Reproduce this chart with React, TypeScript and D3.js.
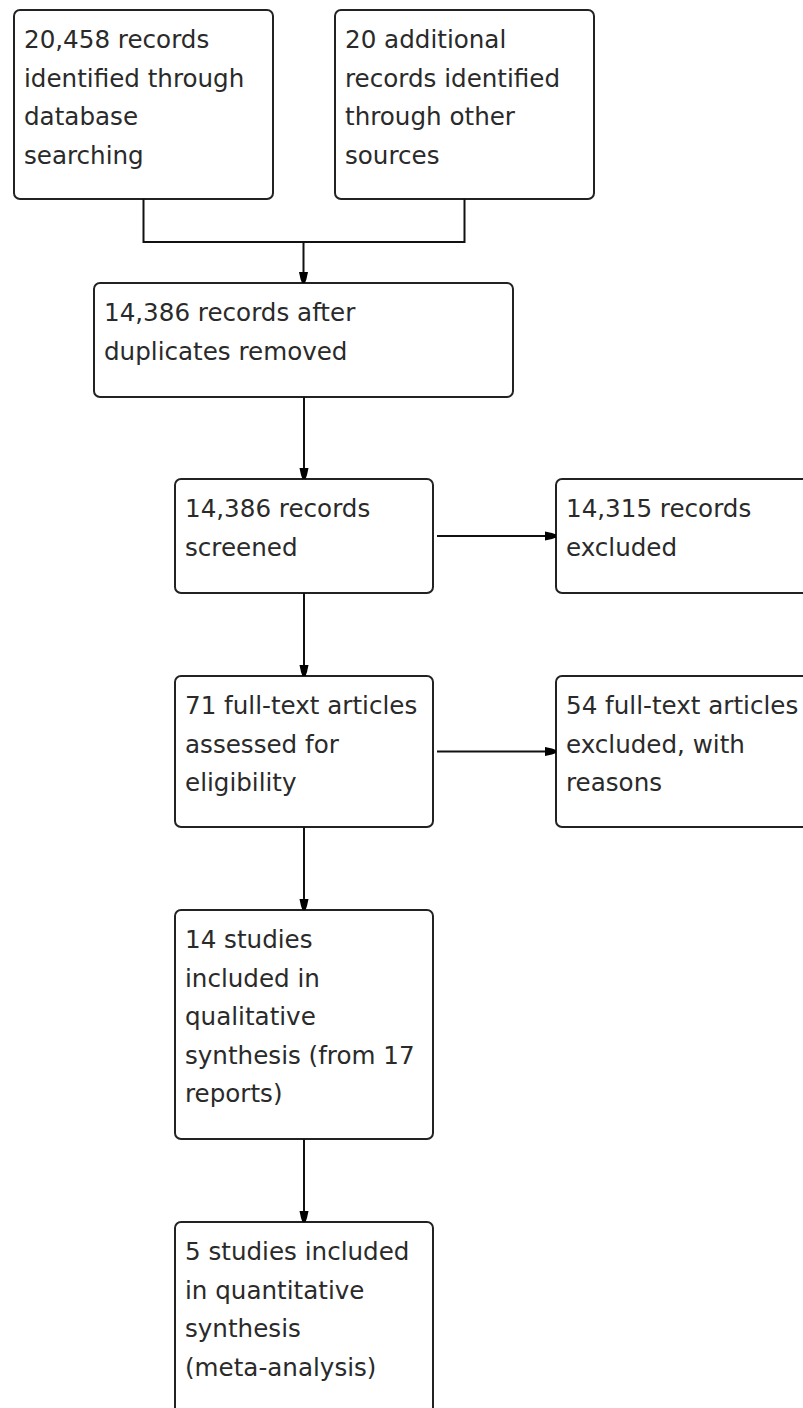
import { useEffect, useRef } from "react";
import * as d3 from "d3";

// box texts, already broken into lines as in the figure
const identifiedDb = ["20,458 records", "identified through", "database", "searching"];
const identifiedOther = ["20 additional", "records identified", "through other", "sources"];
const afterDuplicates = ["14,386 records after", "duplicates removed"];
const screened = ["14,386 records", "screened"];
const screenedExcluded = ["14,315 records", "excluded"];
const fullText = ["71 full-text articles", "assessed for", "eligibility"];
const fullTextExcluded = ["54 full-text articles", "excluded, with", "reasons"];
const qualitative = ["14 studies", "included in", "qualitative", "synthesis (from 17", "reports)"];
const quantitative = ["5 studies included", "in quantitative", "synthesis", "(meta-analysis)"];

export default function App() {
  const ref = useRef<SVGSVGElement>(null);

  useEffect(() => {
    if (!ref.current) return;
    document.body.style.margin = "0";

    const width = 803;
    const height = 1408;
    const svg = d3.select(ref.current);
    svg.selectAll("*").remove();

    // layout of the flow diagram
    const boxes = [
      { id: "db", lines: identifiedDb, x: 14, y: 10, w: 259, h: 189 },
      { id: "other", lines: identifiedOther, x: 335, y: 10, w: 259, h: 189 },
      { id: "dup", lines: afterDuplicates, x: 94, y: 283, w: 419, h: 114 },
      { id: "scr", lines: screened, x: 175, y: 479, w: 258, h: 114 },
      { id: "scrEx", lines: screenedExcluded, x: 556, y: 479, w: 270, h: 114 },
      { id: "ft", lines: fullText, x: 175, y: 676, w: 258, h: 151 },
      { id: "ftEx", lines: fullTextExcluded, x: 556, y: 676, w: 270, h: 151 },
      { id: "qual", lines: qualitative, x: 175, y: 910, w: 258, h: 229 },
      { id: "quant", lines: quantitative, x: 175, y: 1222, w: 258, h: 220 },
    ];
    const byId = Object.fromEntries(boxes.map((b) => [b.id, b]));
    const cx = (b: any) => b.x + b.w / 2;
    const cy = (b: any) => b.y + b.h / 2;

    const lineColor = "#111111";

    svg.append("rect").attr("width", width).attr("height", height).attr("fill", "#ffffff");

    const g = svg.append("g");

    const box = g
      .selectAll("g.box")
      .data(boxes)
      .enter()
      .append("g")
      .attr("class", "box");

    box
      .append("rect")
      .attr("x", (d) => d.x)
      .attr("y", (d) => d.y)
      .attr("width", (d) => d.w)
      .attr("height", (d) => d.h)
      .attr("rx", 6)
      .attr("ry", 6)
      .attr("fill", "#ffffff")
      .attr("stroke", "#222222")
      .attr("stroke-width", 2);

    box
      .selectAll("text")
      .data((d) => d.lines.map((t, i) => ({ t, i, b: d })))
      .enter()
      .append("text")
      .attr("x", (d) => d.b.x + 10)
      .attr("y", (d) => d.b.y + 38 + d.i * 38.5)
      .attr("font-family", "'DejaVu Sans', sans-serif")
      .attr("font-size", 24.6)
      .attr("fill", "#2a2a2a")
      .text((d) => d.t);

    const arrowHead = (x: number, y: number, angle: number) => {
      g.append("path")
        .attr("d", "M-4.5,-11 L4.5,-11 L3,-4 L1.5,0 L-1.5,0 L-3,-4 Z")
        .attr("transform", `translate(${x},${y}) rotate(${angle})`)
        .attr("fill", "#000000");
    };

    const stroke = (sel: any) =>
      sel.attr("fill", "none").attr("stroke", lineColor).attr("stroke-width", 2);

    // merge connector from the two identification boxes
    const db = byId.db;
    const other = byId.other;
    const dup = byId.dup;
    const joinY = 242;
    stroke(
      g
        .append("path")
        .attr(
          "d",
          `M${cx(db)},${db.y + db.h} V${joinY} H${cx(other)} V${other.y + other.h}`
        )
    );
    stroke(g.append("path").attr("d", `M${cx(dup)},${joinY} V${dup.y}`));
    arrowHead(cx(dup), dup.y, 0);

    // vertical arrows down the main column
    const chain = [
      ["dup", "scr"],
      ["scr", "ft"],
      ["ft", "qual"],
      ["qual", "quant"],
    ];
    chain.forEach(([a, b]) => {
      const from = byId[a];
      const to = byId[b];
      const x = cx(to);
      stroke(g.append("path").attr("d", `M${x},${from.y + from.h} V${to.y}`));
      arrowHead(x, to.y, 0);
    });

    // horizontal arrows to the exclusion boxes
    const side = [
      ["scr", "scrEx"],
      ["ft", "ftEx"],
    ];
    side.forEach(([a, b]) => {
      const from = byId[a];
      const to = byId[b];
      const y = cy(from);
      stroke(g.append("path").attr("d", `M${from.x + from.w + 4},${y} H${to.x}`));
      arrowHead(to.x, y, -90);
    });
  }, []);

  return (
    <div style={{ position: "absolute", left: 0, top: 0 }}>
      <svg ref={ref} width={803} height={1408} style={{ display: "block" }} />
    </div>
  );
}
